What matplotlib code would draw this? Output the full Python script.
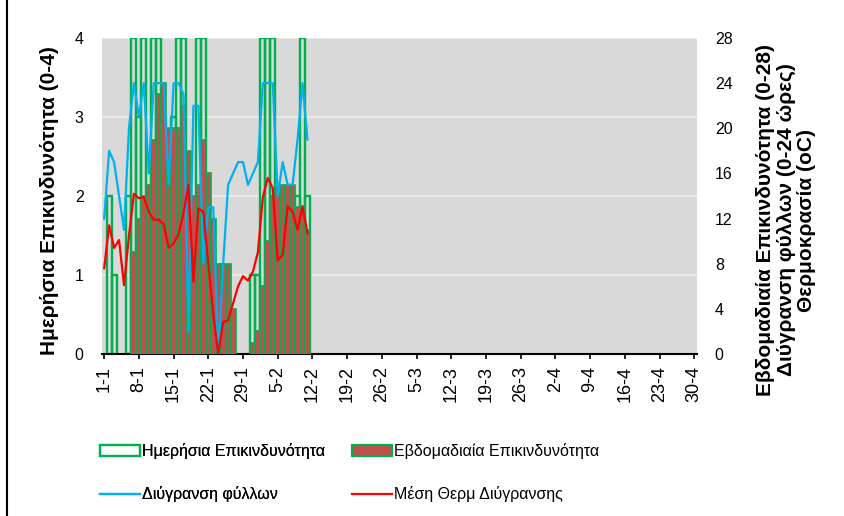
import numpy as np
import matplotlib
matplotlib.use('Agg')
import matplotlib.pyplot as plt
from matplotlib.patches import Patch
from matplotlib.lines import Line2D

plt.rcParams['font.family'] = ['Liberation Sans', 'DejaVu Sans']

# days from 1-1 (index 0) to 11-2 (index 41)
daily_risk = [0, 2, 1, 0, 0, 2, 4, 3, 4, 2, 4, 4, 3, 0, 3, 4, 4, 0, 0, 4,
              4, 0, 0, 0, 0, 0, 0, 0, 0, 0, 1, 1, 4, 4, 4, 1, 0, 1, 1, 2,
              4, 2]
# weekly risk starts on the 7th day (index 6)
weekly_risk = [9, 12, 14, 15, 19, 23, 24, 20, 20, 20, 22, 18, 14, 15, 19, 16,
               12, 8, 8, 8, 4, 0, 0, 0, 1, 2, 6, 10, 14, 15, 15, 15, 15, 13,
               13, 11]
wet_hours = [12, 18, 17, 14, 11, 20, 24, 21, 24, 16, 24, 24, 24, 15, 24, 24,
             23, 2, 22, 22, 8, 13, 13, 0, 8, 15, 16, 17, 17, 15, 16, 17, 24,
             24, 24, 14, 17, 15, 15, 19, 24, 19]
mean_temp = [7.6, 11.4, 9.4, 10.1, 6.1, 10.5, 14.2, 13.8, 13.9, 12.6, 11.9,
             11.9, 11.5, 9.4, 9.8, 10.6, 12.5, 15.0, 6.4, 12.9, 12.6, 8.0,
             3.5, 0.0, 2.8, 3.0, 4.5, 6.0, 6.9, 6.5, 7.3, 9.0, 13.9, 15.6,
             14.7, 8.3, 8.8, 13.1, 12.6, 11.0, 13.1, 10.7]

tick_days = list(range(0, 120, 7))
tick_labels = ['1-1', '8-1', '15-1', '22-1', '29-1', '5-2', '12-2', '19-2',
               '26-2', '5-3', '12-3', '19-3', '26-3', '2-4', '9-4', '16-4',
               '23-4', '30-4']

green = '#00B050'
brown = '#C0504D'
blue = '#00B0F0'
red = '#FF0000'
fs = 11.5

fig = plt.figure(figsize=(8.44, 5.16), dpi=100)
ax = fig.add_axes([101.7 / 844, 1 - 354 / 516, 595 / 844, 316 / 516])
ax2 = ax.twinx()

ax.set_facecolor('#D9D9D9')

days = np.arange(len(daily_risk))
d = np.array(daily_risk)
nz = d > 0
ax.bar(days[nz], d[nz], width=1.0, facecolor='none', edgecolor=green,
       linewidth=1.7, zorder=3)

wdays = np.arange(6, 6 + len(weekly_risk))
w = np.array(weekly_risk)
wn = w > 0
ax2.bar(wdays[wn], w[wn], width=1.0, facecolor=brown, edgecolor=green,
        linewidth=1.2, zorder=2)
ax2.plot(days, wet_hours, color=blue, linewidth=1.6, zorder=4)
ax2.plot(days, mean_temp, color=red, linewidth=1.6, zorder=5)

# axes
ax.set_xlim(-0.5, 119.5)
ax.set_ylim(0, 4)
ax2.set_ylim(0, 28)
ax.set_yticks([0, 1, 2, 3, 4])
ax2.set_yticks(range(0, 29, 4))
ax.set_xticks(tick_days)
ax.set_xticklabels(tick_labels, rotation=90, fontsize=13)
ax.tick_params(axis='x', direction='out', length=3.8, width=1.2, pad=5)
ax.tick_params(axis='y', length=0, pad=13, labelsize=fs)
ax2.tick_params(axis='y', length=0, pad=13, labelsize=fs)

ax.yaxis.grid(True, color='#EEECE1', linewidth=1.3)
ax.set_axisbelow(True)

for s in ['top', 'left', 'right']:
    ax.spines[s].set_visible(False)
    ax2.spines[s].set_visible(False)
ax2.spines['bottom'].set_visible(False)
ax.spines['bottom'].set_linewidth(1.5)
ax.spines['bottom'].set_zorder(6)

# axis titles
fig.text(50 / 844, 1 - 201 / 516, 'Ημερήσια Επικινδυνότητα (0-4)',
         rotation=90, ha='center', va='center', fontsize=15, fontweight='bold')
fig.text(786 / 844, 1 - 220 / 516,
         'Εβδομαδιαία Επικινδυνότητα (0-28)\nΔιύγρανση φύλλων (0-24 ώρες)\nΘερμοκρασία (oC)',
         rotation=90, ha='center', va='center', multialignment='center',
         fontsize=15, fontweight='bold', linespacing=1.1)

# legend
h_daily = Patch(facecolor='none', edgecolor=green, linewidth=1.6)
h_weekly = Patch(facecolor=brown, edgecolor=green, linewidth=1.6)
h_wet = Line2D([], [], color=blue, linewidth=1.6)
h_temp = Line2D([], [], color=red, linewidth=1.6)

leg1 = fig.legend([h_daily, h_wet], ['Ημερήσια Επικινδυνότητα', 'Διύγρανση φύλλων'],
                  loc='upper left', bbox_to_anchor=(100 / 844, 1 - 443 / 516),
                  frameon=False, fontsize=fs, handlelength=2.5, handletextpad=0.15,
                  labelspacing=1.7, borderpad=0, borderaxespad=0)
leg2 = fig.legend([h_weekly, h_temp], ['Εβδομαδιαία Επικινδυνότητα', 'Μέση Θερμ Διύγρανσης'],
                  loc='upper left', bbox_to_anchor=(352 / 844, 1 - 443 / 516),
                  frameon=False, fontsize=fs, handlelength=2.5, handletextpad=0.15,
                  labelspacing=1.7, borderpad=0, borderaxespad=0)
fig.add_artist(leg1)

# chart border (left edge visible)
fig.add_artist(Line2D([7 / 844, 7 / 844], [0, 1], color='black', linewidth=1.5))

fig.savefig('out.png', dpi=100)
